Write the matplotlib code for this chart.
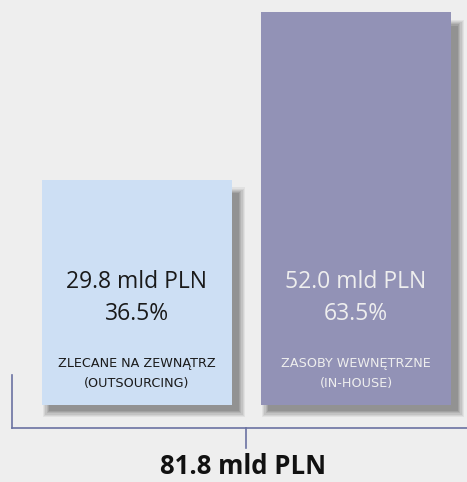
import matplotlib.pyplot as plt

# Daten
values = [29.8, 52.0]
shares = ["36.5%", "63.5%"]
labels = ["ZLECANE NA ZEWNĄTRZ\n(OUTSOURCING)", "ZASOBY WEWNĘTRZNE\n(IN-HOUSE)"]
total_label = "81.8 mld PLN"

bar_colors = ["#cddff4", "#9292b6"]
text_colors = ["#1a1a1a", "#eeeeee"]
bg = "#eeeeee"
line_color = "#6a72a2"

W, H = 467, 482
fig = plt.figure(figsize=(W / 100, H / 100), dpi=100)
fig.patch.set_facecolor(bg)

# Achsen: unten an der Balkenbasis (y=405 px von oben), oben am Bildrand
base_px = 405
top_bar_px = 12
ax = fig.add_axes([0, (H - base_px) / H, 1, base_px / H])
ax.set_facecolor(bg)
ymax = max(values) * base_px / (base_px - top_bar_px)
upx = ymax / base_px  # Dateneinheiten pro Pixel
ax.set_xlim(0, W)
ax.set_ylim(0, ymax)
ax.axis("off")

centers = [137, 356]
bars = ax.bar(centers, values, width=190, color=bar_colors, zorder=3)

# weicher Schatten: mehrere Schichten
for b in bars:
    for k, a in enumerate([0.08, 0.09, 0.11, 0.13, 0.16, 0.18]):
        grow = (5 - k) * 1.2
        sh = plt.Rectangle((b.get_x() + 7 - grow, (-6 - grow) * upx),
                           b.get_width() + 2 * grow,
                           b.get_height() - 1 + 2 * grow * upx,
                           facecolor="#4a4a4a", alpha=a, lw=0, zorder=2,
                           clip_on=False)
        ax.add_patch(sh)

for c, v, s, lab, tc in zip(centers, values, shares, labels, text_colors):
    ax.text(c, (base_px - 282) * upx, f"{v:.1f} mld PLN", ha="center", va="center",
            fontsize=16.5, color=tc, family="Open Sans", zorder=4)
    ax.text(c, (base_px - 314) * upx, s, ha="center", va="center",
            fontsize=16.5, color=tc, family="Open Sans", zorder=4)
    ax.text(c, (base_px - 373) * upx, lab, ha="center", va="center",
            fontsize=9.2, color=tc, family=["Liberation Sans Narrow", "DejaVu Sans"],
            linespacing=1.7, zorder=4)

# Klammer unten
def px(x, y):
    return x / W, 1 - y / H

for (x0, y0), (x1, y1) in [((12, 375), (12, 428)), ((12, 428), (467, 428)),
                           ((246, 428), (246, 448))]:
    a, b = px(x0, y0)
    c, d = px(x1, y1)
    fig.add_artist(plt.Line2D([a, c], [b, d], color=line_color, lw=1.2))

fig.text(243 / W, 1 - 466 / H, total_label, ha="center", va="center",
         fontsize=18.5, fontweight="bold", color="#111111", family="Open Sans")

fig.savefig("out.png", dpi=100, facecolor=bg)
